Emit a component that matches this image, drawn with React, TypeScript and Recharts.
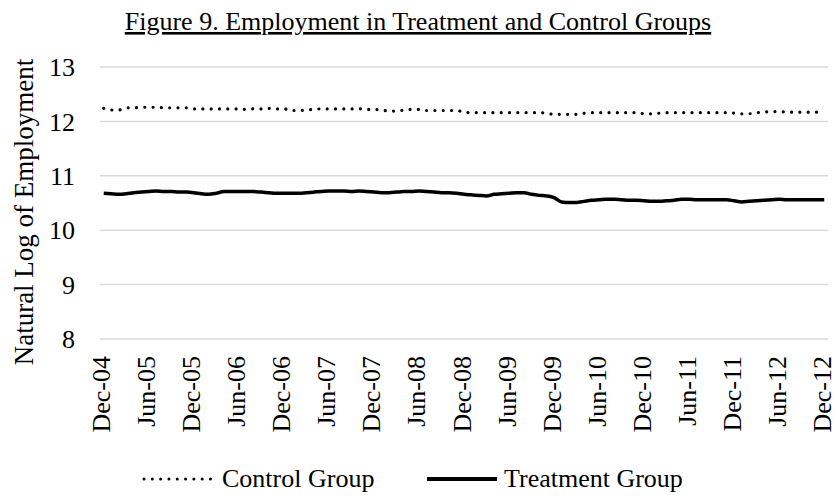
import React from "react";
import { LineChart, Line, XAxis, YAxis, CartesianGrid } from "recharts";

const months: string[] = [
  "Dec-04",
  "Jan-05", "Feb-05", "Mar-05", "Apr-05", "May-05", "Jun-05", "Jul-05", "Aug-05", "Sep-05", "Oct-05", "Nov-05", "Dec-05",
  "Jan-06", "Feb-06", "Mar-06", "Apr-06", "May-06", "Jun-06", "Jul-06", "Aug-06", "Sep-06", "Oct-06", "Nov-06", "Dec-06",
  "Jan-07", "Feb-07", "Mar-07", "Apr-07", "May-07", "Jun-07", "Jul-07", "Aug-07", "Sep-07", "Oct-07", "Nov-07", "Dec-07",
  "Jan-08", "Feb-08", "Mar-08", "Apr-08", "May-08", "Jun-08", "Jul-08", "Aug-08", "Sep-08", "Oct-08", "Nov-08", "Dec-08",
  "Jan-09", "Feb-09", "Mar-09", "Apr-09", "May-09", "Jun-09", "Jul-09", "Aug-09", "Sep-09", "Oct-09", "Nov-09", "Dec-09",
  "Jan-10", "Feb-10", "Mar-10", "Apr-10", "May-10", "Jun-10", "Jul-10", "Aug-10", "Sep-10", "Oct-10", "Nov-10", "Dec-10",
  "Jan-11", "Feb-11", "Mar-11", "Apr-11", "May-11", "Jun-11", "Jul-11", "Aug-11", "Sep-11", "Oct-11", "Nov-11", "Dec-11",
  "Jan-12", "Feb-12", "Mar-12", "Apr-12", "May-12", "Jun-12", "Jul-12", "Aug-12", "Sep-12", "Oct-12", "Nov-12", "Dec-12",
];

const controlGroup: number[] = [
  12.24,
  12.21, 12.21, 12.25, 12.25, 12.26, 12.26, 12.26, 12.25, 12.25, 12.25, 12.25, 12.23,
  12.23, 12.23, 12.23, 12.23, 12.23, 12.23, 12.22, 12.23, 12.23, 12.24, 12.23, 12.23,
  12.20, 12.20, 12.21, 12.22, 12.23, 12.23, 12.23, 12.23, 12.23, 12.23, 12.22, 12.22,
  12.21, 12.19, 12.19, 12.21, 12.22, 12.22, 12.20, 12.20, 12.20, 12.20, 12.20, 12.17,
  12.16, 12.16, 12.16, 12.16, 12.16, 12.16, 12.16, 12.16, 12.16, 12.16, 12.15, 12.13,
  12.13, 12.13, 12.13, 12.15, 12.16, 12.16, 12.16, 12.16, 12.16, 12.16, 12.16, 12.14,
  12.14, 12.15, 12.16, 12.16, 12.16, 12.16, 12.16, 12.16, 12.16, 12.16, 12.16, 12.15,
  12.14, 12.14, 12.16, 12.17, 12.18, 12.18, 12.17, 12.17, 12.17, 12.17, 12.17, 12.17,
];

const treatmentGroup: number[] = [
  10.68,
  10.67, 10.66, 10.67, 10.69, 10.70, 10.71, 10.72, 10.71, 10.71, 10.70, 10.70, 10.69,
  10.67, 10.66, 10.68, 10.71, 10.71, 10.71, 10.71, 10.71, 10.70, 10.69, 10.68, 10.68,
  10.68, 10.68, 10.69, 10.70, 10.71, 10.72, 10.72, 10.72, 10.71, 10.72, 10.71, 10.70,
  10.69, 10.69, 10.70, 10.71, 10.71, 10.72, 10.71, 10.70, 10.69, 10.69, 10.68, 10.66,
  10.65, 10.64, 10.63, 10.66, 10.67, 10.68, 10.69, 10.69, 10.66, 10.64, 10.63, 10.60,
  10.52, 10.51, 10.51, 10.53, 10.55, 10.56, 10.57, 10.57, 10.56, 10.55, 10.55, 10.54,
  10.53, 10.53, 10.54, 10.55, 10.57, 10.57, 10.56, 10.56, 10.56, 10.56, 10.56, 10.54,
  10.52, 10.53, 10.54, 10.55, 10.56, 10.57, 10.56, 10.56, 10.56, 10.56, 10.56, 10.56,
];

const yTicks: number[] = [8, 9, 10, 11, 12, 13];

const titleText = "Figure 9. Employment in Treatment and Control Groups";
const yLabelText = "Natural Log of Employment";
const controlName = "Control Group";
const treatmentName = "Treatment Group";

const data = months.map((m, i) => ({
  m,
  control: controlGroup[i],
  treatment: treatmentGroup[i],
}));

const FONT = "'Liberation Serif', 'Times New Roman', serif";

const XTick = (props: any) => {
  const { x, payload } = props;
  const bx = x + 6.5;
  return (
    <text
      x={bx}
      y={356}
      transform={`rotate(-90, ${bx}, 356)`}
      textAnchor="end"
      fontSize={26}
      fontFamily={FONT}
      fill="#000"
    >
      {payload.value}
    </text>
  );
};

export default function App() {
  return (
    <div style={{ position: "absolute", left: 0, top: 0, width: 836, height: 496, background: "#fff" }}>
      <LineChart
        width={836}
        height={496}
        data={data}
        margin={{ top: 67, right: 8, left: 60, bottom: 57 }}
      >
        <CartesianGrid vertical={false} stroke="#d9d9d9" strokeWidth={1.5} />
        <XAxis
          dataKey="m"
          interval={5}
          axisLine={false}
          tickLine={false}
          height={100}
          padding={{ left: 3.75, right: 3.75 }}
          tick={<XTick />}
        />
        <YAxis
          domain={[8, 13]}
          ticks={yTicks}
          width={40}
          axisLine={false}
          tickLine={false}
          tickSize={0}
          tickMargin={25}
          tick={{ fontSize: 26, fontFamily: FONT, fill: "#000" }}
        />
        <Line
          type="monotone"
          dataKey="control"
          stroke="#000"
          strokeWidth={3.2}
          strokeDasharray="0.01 8.3"
          strokeLinecap="round"
          dot={false}
          isAnimationActive={false}
        />
        <Line
          type="monotone"
          dataKey="treatment"
          stroke="#000"
          strokeWidth={3.5}
          dot={false}
          isAnimationActive={false}
        />
      </LineChart>
      <svg
        width={836}
        height={496}
        style={{ position: "absolute", left: 0, top: 0, pointerEvents: "none" }}
      >
        <text x={418} y={30} textAnchor="middle" fontSize={26} fontFamily={FONT} fill="#000" textDecoration="underline">
          {titleText}
        </text>
        <text
          x={33}
          y={212}
          transform="rotate(-90, 33, 212)"
          textAnchor="middle"
          fontSize={27}
          fontFamily={FONT}
          fill="#000"
        >
          {yLabelText}
        </text>
        <line x1={144} y1={479} x2={214} y2={479} stroke="#000" strokeWidth={3} strokeDasharray="0.01 8.3" strokeLinecap="round" />
        <text x={222} y={487} fontSize={26} fontFamily={FONT} fill="#000">{controlName}</text>
        <line x1={427} y1={479} x2={497} y2={479} stroke="#000" strokeWidth={4} />
        <text x={504} y={487} fontSize={26} fontFamily={FONT} fill="#000">{treatmentName}</text>
      </svg>
    </div>
  );
}
